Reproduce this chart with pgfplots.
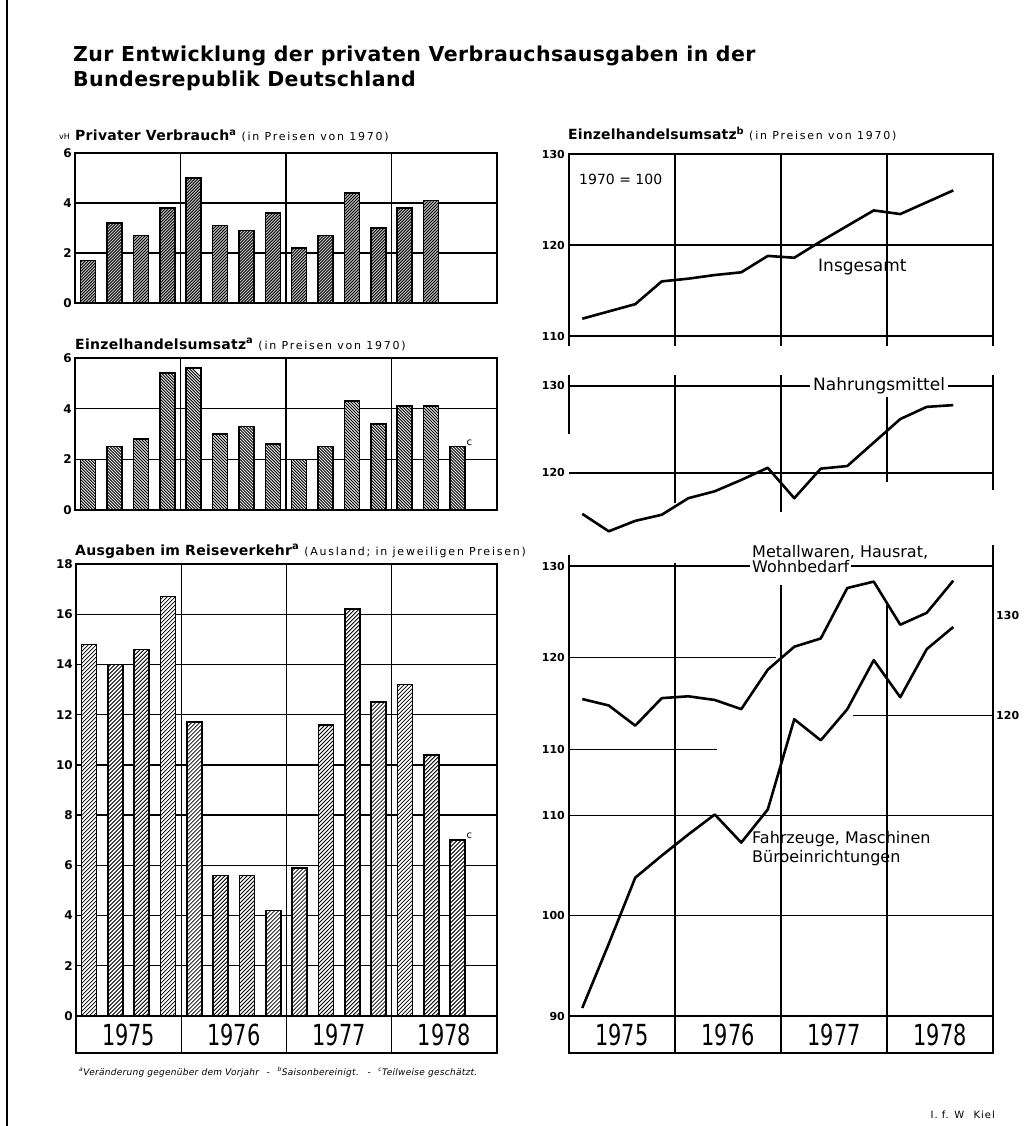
\documentclass[border=0pt]{standalone}
\usepackage{fontspec}
\setmainfont{DejaVu Sans}
\usepackage{graphicx}
\usepackage{pgfplots}
\pgfplotsset{compat=1.18}

\tikzset{
  grd/.style={line width=1.4pt, black},
  frm/.style={line width=1.8pt, black},
  yr/.style={font=\fontsize{29}{29}\selectfont, inner sep=0pt},
  ptitle/.style={anchor=base west, inner sep=0pt, font=\fontsize{14}{14}\selectfont\bfseries\addfontfeatures{LetterSpace=2}},
}
\newcommand{\yrtxt}[1]{\scalebox{0.72}[1]{#1}}
\newcommand{\paren}[1]{{\mdseries\fontsize{11}{11}\selectfont\addfontfeatures{LetterSpace=16}#1}}

% hatching inside one bar: x, value, distance (pt), count, direction (1 = /, -1 = \), line width
\newcommand{\hb}[6]{%
  \begin{scope}
  \clip ([xshift=-7.5pt]axis cs:#1,0) rectangle ([xshift=7.5pt]axis cs:#1,#2);
  \draw[line width=#6pt, black] \foreach \k in {0,...,#4}
    {([xshift=-8pt,yshift={\k*#3pt-20pt}]axis cs:#1,0) -- ++(16pt,{#5*16pt})};
  \end{scope}}

\pgfplotsset{
  base/.style={scale only axis, anchor=south west, xmin=0.5, xmax=16.5, clip=false,
    xtick=\empty, major tick length=0pt,
    /pgf/number format/assume math mode=true,
    /pgf/number format/1000 sep={},
    yticklabel style={font=\fontsize{12}{12}\selectfont\bfseries, inner sep=3pt},
    axis line style={line width=1.8pt}},
  bars/.style={base, width=422pt, ymajorgrids, grid style={line width=1.4pt, black},
    extra x ticks={4.5,8.5,12.5}, extra x tick labels={},
    extra x tick style={grid=major, major tick length=0pt}},
  rline/.style={base, width=424pt,
    yticklabel style={font=\fontsize{11}{11}\selectfont\bfseries, inner sep=4pt}},
  hid/.style={axis line style={draw=none}},
  barst/.style={ybar, bar width=15pt, draw=black, line width=1.6pt},
  ln/.style={black, line width=2.6pt, line join=round, mark=none},
}

\begin{document}
\begin{tikzpicture}
\path[use as bounding box] (0pt,0pt) rectangle (1023pt,-1126pt);
\draw[line width=2pt] (7pt,0pt) -- (7pt,-1126pt);

% main title
\node[anchor=base west, inner sep=0pt, font=\fontsize{20.5}{20.5}\selectfont\bfseries\addfontfeatures{LetterSpace=2}] at (73pt,-62pt)
  {Zur Entwicklung der privaten Verbrauchsausgaben in der};
\node[anchor=base west, inner sep=0pt, font=\fontsize{20.5}{20.5}\selectfont\bfseries\addfontfeatures{LetterSpace=2}] at (73pt,-87pt)
  {Bundesrepublik Deutschland};

% panel titles
\node[anchor=base east, inner sep=0pt, font=\fontsize{8}{8}\selectfont] at (70pt,-140pt) {vH};
\node[ptitle] at (75pt,-141pt) {Privater Verbrauch\textsuperscript{a} \paren{(in Preisen von 1970)}};
\node[ptitle] at (75pt,-349pt) {Einzelhandelsumsatz\textsuperscript{a} \paren{(in Preisen von 1970)}};
\node[ptitle] at (75pt,-555pt) {Ausgaben im Reiseverkehr\textsuperscript{a} \paren{(Ausland; in jeweiligen Preisen)}};
\node[ptitle, font=\fontsize{14}{14}\selectfont\bfseries\addfontfeatures{LetterSpace=1}] at (568pt,-140pt) {Einzelhandelsumsatz\textsuperscript{b} \paren{(in Preisen von 1970)}};

% ---------- Panel 1: Privater Verbrauch ----------
\begin{axis}[bars, at={(75pt,-303pt)}, height=150pt, ymin=0, ymax=6, ytick={0,2,4,6}]
\addplot[barst, fill=gray!40] coordinates {(1,1.7)(2,3.2)(3,2.7)(4,3.8)(5,5.0)(6,3.1)(7,2.9)(8,3.6)
  (9,2.2)(10,2.7)(11,4.4)(12,3.0)(13,3.8)(14,4.1)};
\foreach \x/\v in {1/1.7,2/3.2,3/2.7,4/3.8,5/5.0,6/3.1,7/2.9,8/3.6,9/2.2,10/2.7,11/4.4,12/3.0,13/3.8,14/4.1}
  {\edef\tmp{\noexpand\hb{\x}{\v}{3}{52}{1}{0.9}}\tmp}
\end{axis}

% ---------- Panel 2: Einzelhandelsumsatz (Veraenderung) ----------
\begin{axis}[bars, at={(75pt,-510pt)}, height=152pt, ymin=0, ymax=6, ytick={0,2,4,6}]
\addplot[barst, fill=gray!10] coordinates {(1,2.0)(2,2.5)(3,2.8)(4,5.4)(5,5.6)(6,3.0)(7,3.3)(8,2.6)
  (9,2.0)(10,2.5)(11,4.3)(12,3.4)(13,4.1)(14,4.1)(15,2.5)};
\foreach \x/\v in {1/2.0,2/2.5,3/2.8,4/5.4,5/5.6,6/3.0,7/3.3,8/2.6,9/2.0,10/2.5,11/4.3,12/3.4,13/4.1,14/4.1,15/2.5}
  {\edef\tmp{\noexpand\hb{\x}{\v}{3}{56}{-1}{0.9}}\tmp}
\node[anchor=south west, inner sep=1pt, font=\fontsize{10}{10}\selectfont] at (axis cs:15.3,2.5) {c};
\end{axis}

% ---------- Panel 3: Reiseverkehr ----------
\begin{axis}[bars, at={(76pt,-1016pt)}, width=421pt, height=452pt, ymin=0, ymax=18,
  ytick={0,2,4,6,8,10,12,14,16,18}]
\addplot[barst, fill=white] coordinates {(1,14.8)(2,14.0)(3,14.6)(4,16.7)(5,11.7)(6,5.6)(7,5.6)(8,4.2)
  (9,5.9)(10,11.6)(11,16.2)(12,12.5)(13,13.2)(14,10.4)(15,7.0)};
\foreach \x/\v in {1/14.8,2/14.0,3/14.6,4/16.7,5/11.7,6/5.6,7/5.6,8/4.2,9/5.9,10/11.6,11/16.2,12/12.5,13/13.2,14/10.4,15/7.0}
  {\edef\tmp{\noexpand\hb{\x}{\v}{4}{112}{1}{0.8}}\tmp}
\node[anchor=south west, inner sep=1pt, font=\fontsize{10}{10}\selectfont] at (axis cs:15.3,7.0) {c};
\end{axis}

% year row left
\draw[frm] (76pt,-1016pt) rectangle (497pt,-1053pt);
\foreach \x in {181.25,286.5,391.75} \draw[grd] (\x pt,-1016pt) -- (\x pt,-1053pt);
\node[yr] at (128.6pt,-1035pt) {\yrtxt{1975}};
\node[yr] at (233.9pt,-1035pt) {\yrtxt{1976}};
\node[yr] at (339.1pt,-1035pt) {\yrtxt{1977}};
\node[yr] at (444.4pt,-1035pt) {\yrtxt{1978}};

% ---------- Panel 4: Insgesamt ----------
\begin{axis}[rline, at={(569pt,-336pt)}, height=182pt, ymin=110, ymax=130, ytick={110,120,130},
  ymajorgrids, grid style={line width=1.4pt, black},
  extra x ticks={4.5,8.5,12.5}, extra x tick labels={}, extra x tick style={grid=major, major tick length=0pt}]
\foreach \xx in {0.5,4.5,8.5,12.5,16.5} {\edef\tmp{\noexpand\draw[frm] (axis cs:\xx,110) -- ++(0pt,-10pt);}\tmp}
\addplot[ln] coordinates {(1,111.9)(2,112.7)(3,113.5)(4,116.0)(5,116.3)(6,116.7)(7,117.0)(8,118.8)
  (9,118.6)(10,120.4)(11,122.1)(12,123.8)(13,123.4)(14,124.7)(15,126.0)};
\end{axis}
\node[anchor=base west, inner sep=0pt, font=\fontsize{14}{14}\selectfont] at (579pt,-185pt) {1970 = 100};
\node[anchor=base west, inner sep=0pt, font=\fontsize{17}{17}\selectfont] at (818pt,-271pt) {Insgesamt};

% ---------- Panel 5: Nahrungsmittel ----------
\begin{axis}[rline, hid, at={(569pt,-542.6pt)}, height=167.5pt, ymin=112, ymax=131.25, ytick={120,130}]
\draw[grd] (axis cs:0.5,130) -- (axis cs:16.5,130);
\draw[grd] (axis cs:0.5,120) -- (axis cs:16.5,120);
\draw[frm] (axis cs:0.5,131.25) -- (axis cs:0.5,124.5);
\draw[frm] (axis cs:16.5,131.25) -- (axis cs:16.5,118.0);
\draw[grd] (axis cs:4.5,131.25) -- (axis cs:4.5,116.5);
\draw[frm] (axis cs:8.5,131.25) -- (axis cs:8.5,115.5);
\draw[grd] (axis cs:12.5,131.25) -- (axis cs:12.5,119.0);
\addplot[ln] coordinates {(1,115.3)(2,113.3)(3,114.5)(4,115.2)(5,117.1)(6,117.9)(7,119.2)(8,120.6)
  (9,117.1)(10,120.5)(11,120.8)(12,123.5)(13,126.2)(14,127.6)(15,127.8)};
\node[fill=white, inner sep=3pt, font=\fontsize{17}{17}\selectfont] at (axis cs:12.2,130) {Nahrungsmittel};
\end{axis}

% ---------- Panel 6: Metallwaren ----------
\begin{axis}[rline, hid, at={(569pt,-749.5pt)}, height=183.5pt, ymin=110, ymax=130, ytick={110,120,130}]
\draw[grd] (axis cs:0.5,130) -- (axis cs:16.5,130);
\draw[grd] (axis cs:0.5,120) -- (axis cs:8.3,120);
\draw[grd] (axis cs:0.5,110) -- (axis cs:6.1,110);
\addplot[ln] coordinates {(1,115.5)(2,114.8)(3,112.6)(4,115.6)(5,115.8)(6,115.4)(7,114.4)(8,118.7)
  (9,121.2)(10,122.1)(11,127.6)(12,128.3)(13,123.6)(14,124.9)(15,128.4)};
\end{axis}
\node[anchor=base west, inner sep=0pt, font=\fontsize{16}{16}\selectfont] at (752pt,-557pt) {Metallwaren, Hausrat,};
\node[anchor=base west, fill=white, inner sep=2pt, font=\fontsize{16}{16}\selectfont] at (750pt,-572pt) {Wohnbedarf};

% ---------- Panel 7: Fahrzeuge ----------
\begin{axis}[rline, hid, at={(569pt,-1016pt)}, height=401pt, ymin=90, ymax=130, ytick={90,100,110}]
\draw[frm] (axis cs:0.5,90) -- (axis cs:16.5,90);
\draw[grd] (axis cs:0.5,100) -- (axis cs:16.5,100);
\draw[grd] (axis cs:0.5,110) -- (axis cs:16.5,110);
\draw[grd] (axis cs:11.2,120) -- (axis cs:16.5,120);
\draw[frm] (axis cs:0.5,136) -- (axis cs:0.5,90);
\draw[frm] (axis cs:16.5,137) -- (axis cs:16.5,90);
\draw[grd] (axis cs:4.5,135.2) -- (axis cs:4.5,90);
\draw[grd] (axis cs:8.5,133) -- (axis cs:8.5,90);
\draw[grd] (axis cs:12.5,131) -- (axis cs:12.5,90);
\node[anchor=west, inner sep=3pt, font=\fontsize{11}{11}\selectfont\bfseries] at (axis cs:16.5,130) {130};
\node[anchor=west, inner sep=3pt, font=\fontsize{11}{11}\selectfont\bfseries] at (axis cs:16.5,120) {120};
\addplot[ln] coordinates {(1,90.8)(2,97.2)(3,103.8)(4,106.0)(5,108.1)(6,110.1)(7,107.3)(8,110.6)
  (9,119.6)(10,117.5)(11,120.6)(12,125.5)(13,121.8)(14,126.6)(15,128.8)};
\end{axis}
\node[anchor=base west, inner sep=0pt, font=\fontsize{16}{16}\selectfont] at (752pt,-843pt) {Fahrzeuge, Maschinen};
\node[anchor=base west, inner sep=0pt, font=\fontsize{16}{16}\selectfont] at (752pt,-862pt) {Büroeinrichtungen};

% year row right
\draw[frm] (569pt,-1016pt) rectangle (993pt,-1053pt);
\foreach \x in {675,781,887} \draw[grd] (\x pt,-1016pt) -- (\x pt,-1053pt);
\node[yr] at (622pt,-1035pt) {\yrtxt{1975}};
\node[yr] at (728pt,-1035pt) {\yrtxt{1976}};
\node[yr] at (834pt,-1035pt) {\yrtxt{1977}};
\node[yr] at (940pt,-1035pt) {\yrtxt{1978}};

% footnote and source
\node[anchor=base west, inner sep=0pt, font=\fontsize{9}{9}\selectfont\itshape\addfontfeatures{LetterSpace=3}] at (79pt,-1075pt)
  {\textsuperscript{a}Veränderung gegenüber dem Vorjahr \enspace - \enspace \textsuperscript{b}Saisonbereinigt. \enspace - \enspace \textsuperscript{c}Teilweise geschätzt.};
\node[anchor=base east, inner sep=0pt, font=\fontsize{10}{10}\selectfont\addfontfeatures{LetterSpace=10}] at (995pt,-1118pt) {I. f. W \enspace Kiel};
\end{tikzpicture}
\end{document}
